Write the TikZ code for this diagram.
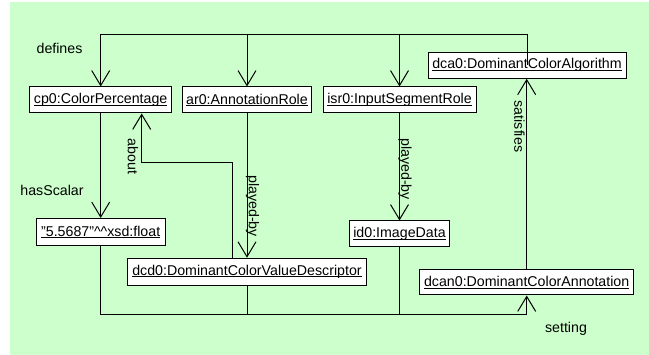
\documentclass[tikz,border=0pt]{standalone}
\usepackage{fontspec}
\setmainfont{Liberation Sans}
\usetikzlibrary{arrows.meta}
\definecolor{bgc}{HTML}{CCFFCC}
\newcommand\myul[1]{\setbox0\hbox{#1}\rlap{\rule[-1.8pt]{\wd0}{0.9pt}}\box0}
\tikzset{
  obj/.style={draw=black, fill=white, line width=1pt, inner sep=0pt, minimum height=26pt, font=\fontsize{14.2}{17}\selectfont},
  lbl/.style={inner sep=0pt, font=\fontsize{14.2}{17}\selectfont},
  conn/.style={line width=1pt},
  arr/.style={conn, -{Straight Barb[length=15pt,width=18pt,line width=1pt]}}
}
\begin{document}
\begin{tikzpicture}[x=1pt,y=-1pt]
\useasboundingbox (0,0) rectangle (649,355);
\fill[bgc] (10,2) rectangle (649,355);
% objects
\node[obj, minimum width=142pt] (cp0) at (100.7,100) {\myul{cp0:ColorPercentage}};
\node[obj, minimum width=129pt] (ar0) at (247,100) {\myul{ar0:AnnotationRole}};
\node[obj, minimum width=153pt] (isr0) at (399.5,100) {\myul{isr0:InputSegmentRole}};
\node[obj, minimum width=198pt] (dca0) at (527,65.3) {\myul{dca0:DominantColorAlgorithm}};
\node[obj, minimum width=129pt, minimum height=27pt] (val) at (100.7,232) {\myul{"5.5687"\^{}\^{}xsd:float}};
\node[obj, minimum width=239pt, minimum height=27pt] (dcd0) at (247,271.7) {\myul{dcd0:DominantColorValueDescriptor}};
\node[obj, minimum width=100pt] (id0) at (399.5,234) {\myul{id0:ImageData}};
\node[obj, minimum width=214pt, minimum height=25pt] (dcan0) at (526.7,282.5) {\myul{dcan0:DominantColorAnnotation}};
% bus coordinates
\coordinate (topbus) at (0,34.5);
\coordinate (botbus) at (0,314.3);
\coordinate (ab1) at (232.3,163);
\coordinate (ab2) at (141.7,163);
% defines
\draw[arr] (dca0.center) -- (dca0.center |- topbus) -| (cp0.north);
\draw[arr] (ar0.north |- topbus) -- (ar0.north);
\draw[arr] (isr0.north |- topbus) -- (isr0.north);
\node[lbl] (ldefines) at (59.5,48) {defines};
% about
\draw[arr] (dcd0.north -| ab1) -- (ab1) -- (ab2) -- (cp0.south -| ab2);
\node[lbl, rotate=-90] (labout) at (133,156.5) {about};
% played-by
\draw[arr] (ar0.south) -- (dcd0.north);
\node[lbl, rotate=-90] (lpb1) at (252.5,206) {played-by};
\draw[arr] (isr0.south) -- (id0.north);
\node[lbl, rotate=-90] (lpb2) at (405,169) {played-by};
% hasScalar
\draw[arr] (cp0.south) -- (val.north);
\node[lbl] (lhas) at (52,190) {hasScalar};
% satisfies
\draw[arr] (dcan0.north) -- (dcan0.north |- dca0.south);
\node[lbl, rotate=-90] (lsat) at (519.5,126.5) {satisfies};
% setting
\draw[arr] (val.south) -- (val.south |- botbus) -| (dcan0.south);
\draw[conn] (dcd0.south) -- (dcd0.south |- botbus);
\draw[conn] (id0.south) -- (id0.south |- botbus);
\node[lbl] (lset) at (566,329) {setting};
\end{tikzpicture}
\end{document}
